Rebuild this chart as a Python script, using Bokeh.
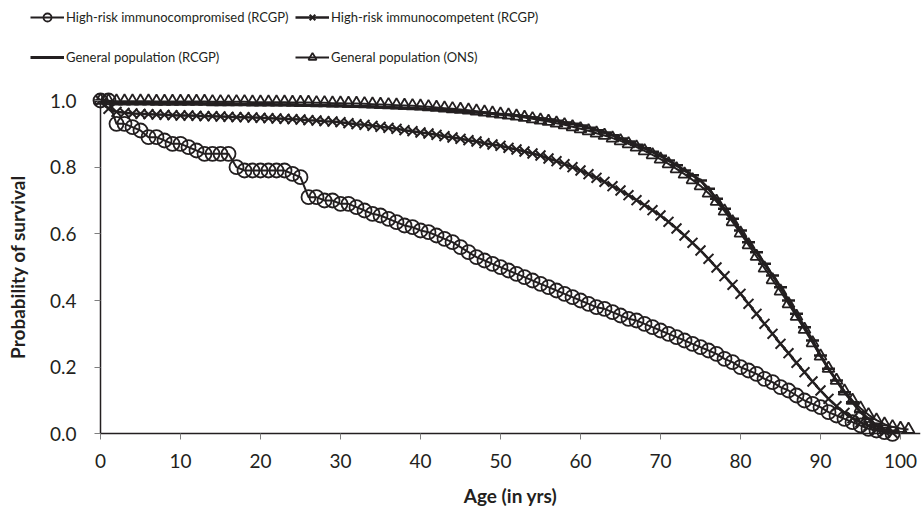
from bokeh.plotting import figure
from bokeh.models import (Legend, LegendItem, FixedTicker, NumeralTickFormatter,
                          Range1d, ColumnDataSource)
from bokeh.embed import file_html
from bokeh.resources import INLINE

# ---- data ----
ages = list(range(0, 100))
ages_ons = list(range(0, 102))

immunocompromised = [
    1.00, 1.00, 0.93, 0.93, 0.92, 0.91, 0.89, 0.89, 0.88, 0.87,
    0.87, 0.86, 0.85, 0.84, 0.84, 0.84, 0.84, 0.80, 0.79, 0.79,
    0.79, 0.79, 0.79, 0.79, 0.78, 0.77, 0.71, 0.71, 0.70, 0.70,
    0.69, 0.69, 0.68, 0.67, 0.66, 0.655, 0.645, 0.635, 0.625, 0.62,
    0.61, 0.605, 0.595, 0.585, 0.575, 0.56, 0.545, 0.53, 0.52, 0.51,
    0.50, 0.49, 0.48, 0.47, 0.46, 0.45, 0.44, 0.43, 0.42, 0.41,
    0.40, 0.39, 0.38, 0.375, 0.365, 0.355, 0.345, 0.34, 0.33, 0.32,
    0.31, 0.30, 0.29, 0.28, 0.27, 0.26, 0.25, 0.24, 0.225, 0.215,
    0.20, 0.19, 0.18, 0.165, 0.155, 0.14, 0.13, 0.115, 0.10, 0.09,
    0.08, 0.065, 0.055, 0.045, 0.035, 0.025, 0.015, 0.01, 0.005, 0.0,
]

immunocompetent = [
    1.0, 0.975, 0.966, 0.963, 0.961, 0.96, 0.959, 0.958, 0.957, 0.956,
    0.955, 0.955, 0.954, 0.953, 0.953, 0.952, 0.951, 0.950, 0.950, 0.949,
    0.948, 0.947, 0.946, 0.945, 0.944, 0.943, 0.941, 0.940, 0.938, 0.937,
    0.935, 0.932, 0.929, 0.927, 0.924, 0.921, 0.918, 0.915, 0.911, 0.908,
    0.904, 0.901, 0.897, 0.893, 0.889, 0.885, 0.881, 0.877, 0.872, 0.868,
    0.864, 0.858, 0.853, 0.847, 0.841, 0.835, 0.826, 0.818, 0.809, 0.80,
    0.79, 0.779, 0.768, 0.756, 0.743, 0.73, 0.716, 0.701, 0.686, 0.671,
    0.655, 0.636, 0.616, 0.595, 0.573, 0.55, 0.525, 0.499, 0.473, 0.447,
    0.42, 0.39, 0.36, 0.33, 0.30, 0.27, 0.242, 0.213, 0.185, 0.157,
    0.13, 0.105, 0.083, 0.063, 0.047, 0.035, 0.024, 0.015, 0.008, 0.003,
]

general_rcgp = [
    1.0, 0.995, 0.994, 0.994, 0.993, 0.993, 0.993, 0.992, 0.992, 0.992,
    0.991, 0.991, 0.991, 0.990, 0.990, 0.990, 0.990, 0.989, 0.989, 0.989,
    0.988, 0.988, 0.987, 0.987, 0.987, 0.986, 0.986, 0.985, 0.985, 0.984,
    0.984, 0.983, 0.982, 0.982, 0.981, 0.980, 0.979, 0.978, 0.977, 0.976,
    0.975, 0.974, 0.973, 0.971, 0.970, 0.968, 0.967, 0.965, 0.963, 0.961,
    0.959, 0.957, 0.955, 0.952, 0.949, 0.946, 0.943, 0.939, 0.934, 0.930,
    0.925, 0.918, 0.911, 0.904, 0.896, 0.886, 0.877, 0.867, 0.857, 0.846,
    0.834, 0.820, 0.806, 0.790, 0.776, 0.760, 0.735, 0.705, 0.675, 0.645,
    0.610, 0.575, 0.545, 0.510, 0.475, 0.440, 0.400, 0.360, 0.320, 0.280,
    0.235, 0.195, 0.160, 0.125, 0.095, 0.065, 0.045, 0.025, 0.012, 0.005,
]

general_ons = [
    1.0, 0.999, 0.998, 0.998, 0.998, 0.998, 0.998, 0.997, 0.997, 0.997,
    0.997, 0.997, 0.997, 0.997, 0.996, 0.996, 0.996, 0.996, 0.996, 0.995,
    0.995, 0.995, 0.995, 0.995, 0.994, 0.994, 0.994, 0.993, 0.993, 0.992,
    0.992, 0.991, 0.991, 0.990, 0.989, 0.988, 0.987, 0.986, 0.985, 0.984,
    0.983, 0.981, 0.979, 0.977, 0.975, 0.973, 0.971, 0.968, 0.965, 0.962,
    0.959, 0.956, 0.953, 0.949, 0.945, 0.941, 0.937, 0.932, 0.927, 0.921,
    0.915, 0.909, 0.902, 0.895, 0.887, 0.879, 0.870, 0.860, 0.849, 0.837,
    0.824, 0.810, 0.795, 0.779, 0.762, 0.744, 0.722, 0.697, 0.668, 0.636,
    0.602, 0.567, 0.532, 0.497, 0.462, 0.428, 0.390, 0.352, 0.313, 0.273,
    0.233, 0.196, 0.160, 0.128, 0.100, 0.077, 0.057, 0.041, 0.029, 0.021,
    0.016, 0.013,
]

x_ticks = [0, 10, 20, 30, 40, 50, 60, 70, 80, 90, 100]
y_ticks = [0.0, 0.2, 0.4, 0.6, 0.8, 1.0]

labels = [
    "High-risk immunocompromised (RCGP)",
    "High-risk immunocompetent (RCGP)",
    "General population (RCGP)",
    "General population (ONS)",
]

# ---- styling ----
DARK = "#231f20"
FONT = "Lato"

LINE_W = [2, 2.5, 3, 2]
MARKERS = [
    dict(marker="circle", size=14, line_width=1.8, fill_alpha=0),
    dict(marker="x", size=14, line_width=2),
    dict(marker="dash", size=13, line_width=2.5),
    dict(marker="triangle", size=12, line_width=1.8, fill_alpha=0),
]

# The frame spans the whole figure; both axes are pinned at 0 so the
# legend (top-left) and axis texts are all inside the frame.
p = figure(
    width=922, height=508,
    x_range=Range1d(-12.5, 102.5), y_range=Range1d(-0.224, 1.3),
    output_backend="svg", toolbar_location=None,
    min_border_left=0, min_border_top=0, min_border_right=2, min_border_bottom=0,
)
p.outline_line_color = None
p.xgrid.visible = False
p.ygrid.visible = False

series = [(ages, immunocompromised), (ages, immunocompetent),
          (ages, general_rcgp), (ages_ons, general_ons)]
renderers = []
for (xs, ys), lw, mk in zip(series, LINE_W, MARKERS):
    src = ColumnDataSource(dict(x=xs, y=ys))
    lr = p.line("x", "y", source=src, line_color=DARK, line_width=lw)
    sr = p.scatter("x", "y", source=src, line_color=DARK, **mk)
    renderers.append([lr, sr])

for ax in (p.xaxis[0], p.yaxis[0]):
    ax.axis_line_color = DARK
    ax.axis_line_width = 1.5
    ax.major_tick_line_color = "#7f7f7f"
    ax.major_tick_line_width = 1
    ax.major_tick_in = 0
    ax.major_tick_out = 6
    ax.minor_tick_line_color = None
    ax.major_label_text_font = FONT
    ax.major_label_text_font_size = "19px"
    ax.major_label_text_color = DARK
    ax.axis_label_text_font = FONT
    ax.axis_label_text_font_style = "bold"
    ax.axis_label_text_font_size = "19px"
    ax.axis_label_text_color = DARK

p.xaxis.ticker = FixedTicker(ticks=x_ticks)
p.yaxis.ticker = FixedTicker(ticks=y_ticks)
p.yaxis.formatter = NumeralTickFormatter(format="0.0")
p.yaxis.bounds = (0, 1)
p.yaxis.fixed_location = 0
p.xaxis.bounds = (0, 102.5)
p.xaxis.fixed_location = 0
p.xaxis.axis_label = "Age (in yrs)"
p.yaxis.axis_label = "Probability of survival"
p.xaxis.major_label_standoff = 14
p.yaxis.major_label_standoff = 18
p.xaxis.axis_label_standoff = 13
p.yaxis.axis_label_standoff = 18

def make_legend(its, loc):
    return Legend(items=its, location=loc, orientation="vertical",
                  padding=0, margin=0, spacing=20, border_line_color=None,
                  background_fill_alpha=0, glyph_width=34, glyph_height=20,
                  label_height=20, label_standoff=2,
                  label_text_font=FONT, label_text_font_size="13px",
                  label_text_color=DARK)

# legend positions: offsets from the frame's bottom-left corner
items = [LegendItem(label=lab, renderers=r) for lab, r in zip(labels, renderers)]
p.add_layout(make_legend([items[0], items[2]], (30, 441)), "center")
p.add_layout(make_legend([items[1], items[3]], (295, 441)), "center")

open("out.html", "w").write(file_html(p, INLINE))
